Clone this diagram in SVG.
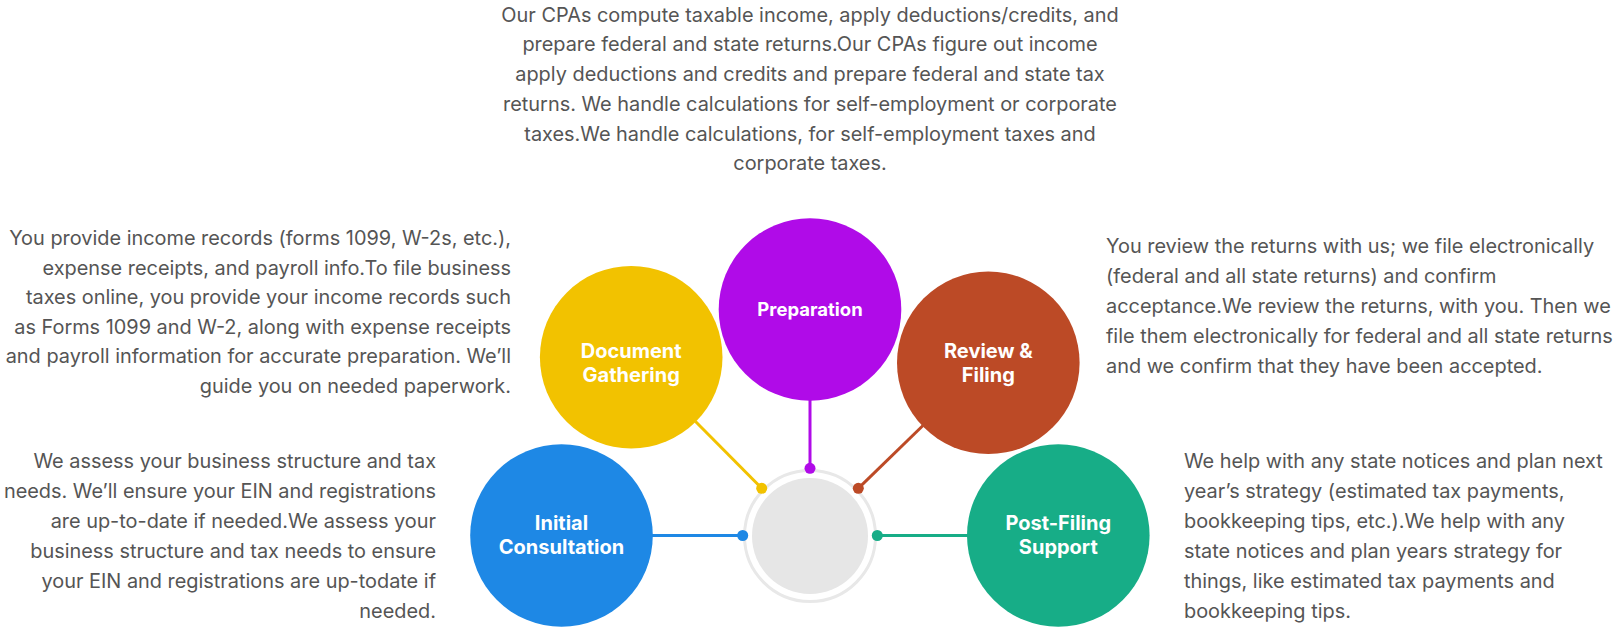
<svg xmlns="http://www.w3.org/2000/svg" width="1620" height="627" viewBox="0 0 1620 627">
<style>
.desc{font-family:Inter,"Noto Sans","Liberation Sans",sans-serif;font-size:19.9px;fill:#555555}
.lbl{font-family:Inter,"Noto Sans","Liberation Sans",sans-serif;font-size:20px;font-weight:700;fill:#ffffff;text-anchor:middle}
.conn{stroke-width:3;fill:none}
</style>
<rect width="1620" height="627" fill="#ffffff"/>
<g id="hub">
<circle cx="810" cy="536" r="65.5" fill="#ffffff" stroke="#e8e8e8" stroke-width="3"/>
<circle cx="810" cy="536" r="58" fill="#e6e6e6"/>
</g>
<g id="connectors">
<line class="conn" x1="652" y1="535.5" x2="742.7" y2="535.5" stroke="#1e88e5"/>
<line class="conn" x1="695.5" y1="421.5" x2="761.7" y2="488.3" stroke="#f2c200"/>
<line class="conn" x1="810" y1="400" x2="810" y2="468.3" stroke="#b00be8"/>
<line class="conn" x1="923" y1="425.5" x2="858.3" y2="488.3" stroke="#bc4a26"/>
<line class="conn" x1="877.3" y1="535.5" x2="968" y2="535.5" stroke="#17ad87"/>
<circle cx="742.7" cy="535.5" r="5.5" fill="#1e88e5"/>
<circle cx="761.7" cy="488.3" r="5.5" fill="#f2c200"/>
<circle cx="810" cy="468.3" r="5.5" fill="#b00be8"/>
<circle cx="858.3" cy="488.3" r="5.5" fill="#bc4a26"/>
<circle cx="877.3" cy="535.5" r="5.5" fill="#17ad87"/>
</g>
<g id="initial-consultation">
<circle cx="561.5" cy="535.5" r="91.3" fill="#1e88e5"/>
<text class="lbl"><tspan x="561.5" y="530">Initial</tspan><tspan x="561.5" y="554">Consultation</tspan></text>
<text class="desc" text-anchor="end"><tspan x="436" y="468.3">We assess your business structure and tax</tspan><tspan x="436" y="498.2">needs. We’ll ensure your EIN and registrations</tspan><tspan x="436" y="528.1">are up-to-date if needed.We assess your</tspan><tspan x="436" y="558">business structure and tax needs to ensure</tspan><tspan x="436" y="587.9">your EIN and registrations are up-todate if</tspan><tspan x="436" y="617.8">needed.</tspan></text>
</g>
<g id="document-gathering">
<circle cx="631.2" cy="357.2" r="91.3" fill="#f2c200"/>
<text class="lbl"><tspan x="631.2" y="357.7">Document</tspan><tspan x="631.2" y="381.7">Gathering</tspan></text>
<text class="desc" text-anchor="end"><tspan x="511" y="245">You provide income records (forms 1099, W-2s, etc.),</tspan><tspan x="511" y="274.6">expense receipts, and payroll info.To file business</tspan><tspan x="511" y="304.2">taxes online, you provide your income records such</tspan><tspan x="511" y="333.8">as Forms 1099 and W-2, along with expense receipts</tspan><tspan x="511" y="363.4">and payroll information for accurate preparation. We’ll</tspan><tspan x="511" y="393">guide you on needed paperwork.</tspan></text>
</g>
<g id="preparation">
<circle cx="810" cy="309.5" r="91.3" fill="#b00be8"/>
<text class="lbl" x="810" y="316" style="font-size:18.5px">Preparation</text>
<text class="desc" text-anchor="middle"><tspan x="810" y="21.7">Our CPAs compute taxable income, apply deductions/credits, and</tspan><tspan x="810" y="51.4">prepare federal and state returns.Our CPAs figure out income</tspan><tspan x="810" y="81.1">apply deductions and credits and prepare federal and state tax</tspan><tspan x="810" y="110.8">returns. We handle calculations for self-employment or corporate</tspan><tspan x="810" y="140.5">taxes.We handle calculations, for self-employment taxes and</tspan><tspan x="810" y="170.2">corporate taxes.</tspan></text>
</g>
<g id="review-filing">
<circle cx="988.3" cy="362.8" r="91.3" fill="#bc4a26"/>
<text class="lbl"><tspan x="988.3" y="357.7">Review &amp;</tspan><tspan x="988.3" y="381.7">Filing</tspan></text>
<text class="desc"><tspan x="1106" y="253.3">You review the returns with us; we file electronically</tspan><tspan x="1106" y="283.2">(federal and all state returns) and confirm</tspan><tspan x="1106" y="313.1">acceptance.We review the returns, with you. Then we</tspan><tspan x="1106" y="343">file them electronically for federal and all state returns</tspan><tspan x="1106" y="372.9">and we confirm that they have been accepted.</tspan></text>
</g>
<g id="post-filing-support">
<circle cx="1058.3" cy="535.5" r="91.3" fill="#17ad87"/>
<text class="lbl"><tspan x="1058.3" y="530">Post-Filing</tspan><tspan x="1058.3" y="554">Support</tspan></text>
<text class="desc"><tspan x="1184" y="468.3">We help with any state notices and plan next</tspan><tspan x="1184" y="498.3">year’s strategy (estimated tax payments,</tspan><tspan x="1184" y="528.3">bookkeeping tips, etc.).We help with any</tspan><tspan x="1184" y="558.3">state notices and plan years strategy for</tspan><tspan x="1184" y="588.3">things, like estimated tax payments and</tspan><tspan x="1184" y="618.3">bookkeeping tips.</tspan></text>
</g>
</svg>
